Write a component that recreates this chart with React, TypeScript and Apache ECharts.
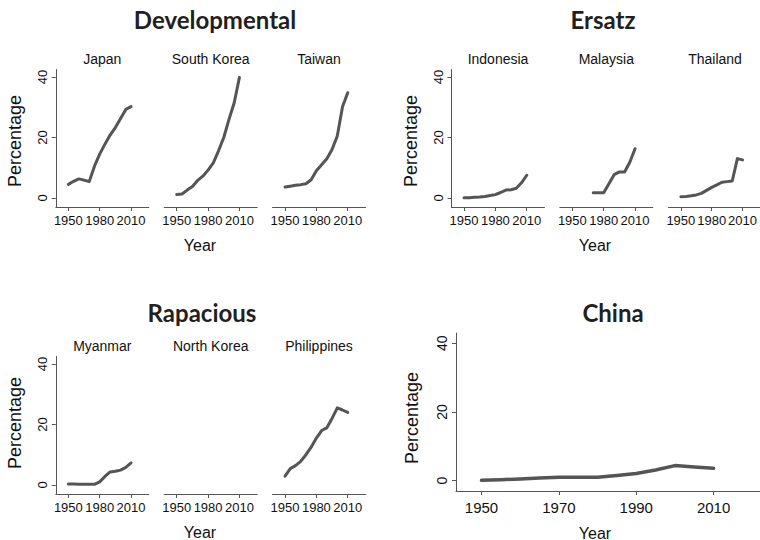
import React, { useEffect, useRef } from "react";
import * as echarts from "echarts";

const years = [1950, 1955, 1960, 1965, 1970, 1975, 1980, 1985, 1990, 1995, 2000, 2005, 2010];

const japan = [4.5, 5.5, 6.3, 5.9, 5.4, 10.5, 14.5, 17.8, 20.8, 23.3, 26.3, 29.3, 30.2];
const southKorea = [1.1, 1.3, 2.6, 3.8, 5.8, 7.2, 9.2, 11.6, 15.6, 20.0, 26.0, 31.5, 39.9];
const taiwan = [3.6, 3.9, 4.2, 4.4, 4.7, 6.0, 9.0, 11.0, 13.0, 16.0, 20.5, 30.2, 34.8];
const indonesia = [0.1, 0.1, 0.2, 0.3, 0.5, 0.8, 1.1, 1.8, 2.6, 2.7, 3.2, 5.0, 7.5];
const malaysia = [null, null, null, null, 1.7, 1.7, 1.7, 4.7, 7.7, 8.6, 8.6, 11.8, 16.3];
const thailand = [0.4, 0.5, 0.7, 1.0, 1.5, 2.5, 3.5, 4.3, 5.2, 5.4, 5.6, 13.0, 12.6];
const myanmar = [0.3, 0.3, 0.2, 0.2, 0.2, 0.2, 1.0, 2.8, 4.3, 4.5, 4.9, 5.8, 7.3];
const northKorea: (number | null)[] = [null, null, null, null, null, null, null, null, null, null, null, null, null];
const philippines = [2.9, 5.4, 6.4, 7.8, 10.0, 12.5, 15.5, 18.0, 18.9, 22.0, 25.5, 24.8, 24.0];
const china = [0.1, 0.3, 0.5, 0.8, 1.0, 1.0, 1.0, 1.5, 2.1, 3.1, 4.4, 4.0, 3.6];

const groupTitles = ["Developmental", "Ersatz", "Rapacious", "China"];
const countryNames = [
  "Japan", "South Korea", "Taiwan",
  "Indonesia", "Malaysia", "Thailand",
  "Myanmar", "North Korea", "Philippines",
];
const countryValues = [
  japan, southKorea, taiwan,
  indonesia, malaysia, thailand,
  myanmar, northKorea, philippines,
];
const smallXTicks = [1950, 1980, 2010];
const chinaXTicks = [1950, 1970, 1990, 2010];
const yTicks = [0, 20, 40];

const LINE = "#555555";
const SANS = "'Liberation Sans', Arial, Helvetica, sans-serif";
const TITLE_FONT = "Lato, 'Open Sans', sans-serif";

export default function App() {
  const ref = useRef<HTMLDivElement>(null);
  useEffect(() => {
    if (!ref.current) return;
    const chart = echarts.init(ref.current, null, { renderer: "svg" });

    const smallLefts = [
      [55.8, 164.2, 272.5],
      [451.5, 559.8, 668.5],
      [55.8, 164.2, 272.5],
    ];
    const rowTops = [69.5, 69.5, 356.5];

    const grids: any[] = [];
    const xAxes: any[] = [];
    const yAxes: any[] = [];
    const series: any[] = [];
    const graphics: any[] = [];

    const axisLineStyle = { color: LINE, width: 1 };
    const plain = (v: number) => String(v);

    for (let g = 0; g < 3; g++) {
      for (let p = 0; p < 3; p++) {
        const idx = g * 3 + p;
        const left = smallLefts[g][p];
        const top = rowTops[g];
        grids.push({ left, top, width: 93, height: 137.5, containLabel: false });
        xAxes.push({
          type: "value",
          gridIndex: idx,
          min: 1938,
          max: 2027,
          axisLine: { show: true, lineStyle: axisLineStyle, onZero: false },
          axisTick: { show: true, length: 4, lineStyle: axisLineStyle, customValues: smallXTicks },
          axisLabel: {
            show: true,
            customValues: smallXTicks,
            formatter: plain,
            hideOverlap: false,
            showMinLabel: true,
            showMaxLabel: true,
            fontSize: 13,
            color: "#111",
            fontFamily: SANS,
            margin: 7,
          },
          splitLine: { show: false },
        });
        const showY = p === 0;
        yAxes.push({
          type: "value",
          gridIndex: idx,
          min: -3,
          max: 42.5,
          axisLine: { show: showY, lineStyle: axisLineStyle },
          axisTick: { show: showY, length: 4, lineStyle: axisLineStyle, customValues: yTicks },
          axisLabel: { show: showY, customValues: yTicks, formatter: plain, rotate: 90, fontSize: 13, color: "#111", fontFamily: SANS, margin: 7 },
          splitLine: { show: false },
        });
        series.push({
          type: "line",
          name: countryNames[idx],
          xAxisIndex: idx,
          yAxisIndex: idx,
          data: years.map((yr, i) => [yr, countryValues[idx][i]]),
          showSymbol: false,
          symbol: "none",
          connectNulls: false,
          lineStyle: { color: LINE, width: 3, cap: "round", join: "round" },
          silent: true,
        });
        graphics.push({
          type: "text",
          x: left + 46.5,
          y: top - 11,
          style: { text: countryNames[idx], font: `14px ${SANS}`, fill: "#111", textAlign: "center", textVerticalAlign: "middle" },
        });
      }
    }

    // China panel
    const ci = 9;
    grids.push({ left: 456, top: 333, width: 304, height: 158 });
    xAxes.push({
      type: "value",
      gridIndex: ci,
      min: 1943.4,
      max: 2022,
      axisLine: { show: true, lineStyle: axisLineStyle, onZero: false },
      axisTick: { show: true, length: 4, lineStyle: axisLineStyle, customValues: chinaXTicks },
      axisLabel: {
        show: true,
        customValues: chinaXTicks,
        formatter: plain,
        hideOverlap: false,
        fontSize: 15,
        color: "#111",
        fontFamily: SANS,
        margin: 9,
      },
      splitLine: { show: false },
    });
    yAxes.push({
      type: "value",
      gridIndex: ci,
      min: -3,
      max: 43,
      axisLine: { show: true, lineStyle: axisLineStyle },
      axisTick: { show: true, length: 4, lineStyle: axisLineStyle, customValues: yTicks },
      axisLabel: { show: true, customValues: yTicks, formatter: plain, rotate: 90, fontSize: 14, color: "#111", fontFamily: SANS, margin: 7 },
      splitLine: { show: false },
    });
    series.push({
      type: "line",
      name: "China",
      xAxisIndex: ci,
      yAxisIndex: ci,
      data: years.map((yr, i) => [yr, china[i]]),
      showSymbol: false,
      symbol: "none",
      lineStyle: { color: LINE, width: 3.5, cap: "round", join: "round" },
      silent: true,
    });

    const titlePos = [
      [215, 19],
      [603, 19],
      [202, 312],
      [613, 312],
    ];
    groupTitles.forEach((t, i) => {
      graphics.push({
        type: "text",
        x: titlePos[i][0],
        y: titlePos[i][1],
        style: { text: t, font: `bold 24px ${TITLE_FONT}`, fill: "#231f20", textAlign: "center", textVerticalAlign: "middle" },
      });
    });

    const pctPos = [
      [15, 141],
      [411, 141],
      [15, 423],
      [412, 418],
    ];
    pctPos.forEach(([x, y]) => {
      graphics.push({
        type: "text",
        x,
        y,
        rotation: Math.PI / 2,
        style: { text: "Percentage", font: `18px ${SANS}`, fill: "#111", textAlign: "center", textVerticalAlign: "middle" },
      });
    });

    const yearPos = [
      [200, 245.5],
      [595, 245.5],
      [200, 532.5],
      [595, 533],
    ];
    yearPos.forEach(([x, y]) => {
      graphics.push({
        type: "text",
        x,
        y,
        style: { text: "Year", font: `16px ${SANS}`, fill: "#111", textAlign: "center", textVerticalAlign: "middle" },
      });
    });

    chart.setOption({
      animation: false,
      backgroundColor: "#ffffff",
      grid: grids,
      xAxis: xAxes,
      yAxis: yAxes,
      series,
      graphic: graphics,
    });
    return () => chart.dispose();
  }, []);

  return <div ref={ref} style={{ position: "fixed", left: 0, top: 0, width: 760, height: 540 }} />;
}
